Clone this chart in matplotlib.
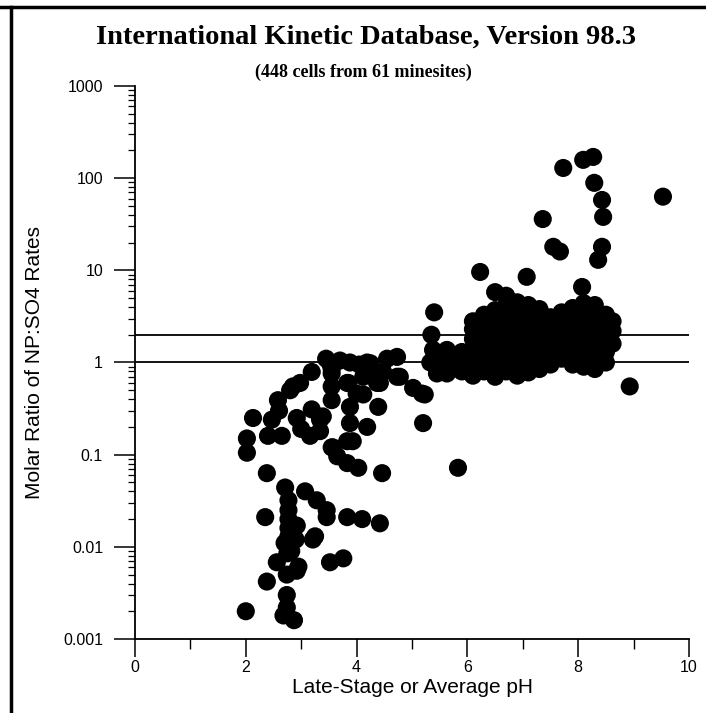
import matplotlib
matplotlib.use("Agg")
import matplotlib.pyplot as plt
from matplotlib.lines import Line2D
from matplotlib.ticker import LogLocator, NullFormatter, FixedLocator, FixedFormatter

# ---------------- data ----------------
# low-pH, very low ratio group
ph_low = [2.00, 2.71, 3.07, 3.28, 3.46, 3.46, 3.83, 4.10, 4.42, 2.35,
          3.21, 3.25, 2.77, 2.77, 2.77, 2.77, 2.77, 2.80, 2.92, 2.90,
          2.56, 2.95, 2.38, 2.74, 2.74, 2.68, 2.87, 3.52, 3.76, 2.74,
          2.92, 2.75, 2.70, 2.82]
r_low = [0.0020, 0.044, 0.040, 0.032, 0.025, 0.021, 0.021, 0.020, 0.018, 0.021,
         0.012, 0.013, 0.032, 0.025, 0.020, 0.016, 0.013, 0.010, 0.017, 0.012,
         0.0068, 0.0061, 0.0042, 0.0030, 0.0022, 0.0018, 0.0016, 0.0068, 0.0075, 0.0050,
         0.0055, 0.0085, 0.011, 0.0090]

# mid group (pH 2-5.9, ratio 0.06-1.2)
ph_mid = [2.02, 2.02, 2.38, 2.13, 2.47, 2.40, 2.65, 2.58, 2.80, 2.98,
          3.19, 2.92, 3.19, 3.16, 3.39, 3.55, 3.83, 4.03, 4.46, 5.83,
          5.20, 3.52, 3.55, 3.88, 4.19, 4.55, 4.73, 3.55, 3.55, 3.55,
          3.83, 4.00, 3.88, 3.88, 3.83, 3.93, 4.19, 4.39, 4.42, 4.73,
          5.02, 5.18, 3.65, 3.34, 3.00, 4.12, 4.48, 2.85, 3.57, 3.85,
          4.12, 3.34, 4.37, 4.37, 4.78, 3.70, 3.45, 4.05, 4.25, 2.60]
r_mid = [0.15, 0.105, 0.063, 0.25, 0.24, 0.16, 0.16, 0.39, 0.50, 0.60,
         0.79, 0.25, 0.31, 0.16, 0.26, 0.12, 0.081, 0.072, 0.063, 0.072,
         0.22, 0.98, 0.85, 1.00, 1.00, 1.10, 1.15, 0.76, 0.55, 0.39,
         0.60, 0.46, 0.33, 0.22, 0.14, 0.14, 0.20, 0.33, 0.60, 0.70,
         0.53, 0.46, 0.096, 0.18, 0.19, 0.70, 0.79, 0.55, 0.12, 0.60,
         0.45, 0.24, 0.70, 0.60, 0.70, 1.05, 1.10, 0.95, 0.98, 0.30]

# transition group (pH 5.2-5.9)
ph_tr = [5.35, 5.40, 5.33, 5.38, 5.45, 5.63, 5.63, 5.23, 5.55, 5.75, 5.80]
r_tr = [2.00, 3.50, 1.00, 1.37, 0.76, 1.37, 0.76, 0.45, 1.05, 1.20, 0.90]

# dense cloud (pH 5.9-8.7, ratio 0.7-6)
ph_cloud = ([5.9] * 3 + [6.1] * 7 + [6.3] * 7 + [6.5] * 9 + [6.7] * 9 +
            [6.9] * 9 + [7.1] * 8 + [7.3] * 7 + [7.5] * 6 + [7.7] * 6 +
            [7.9] * 7 + [8.1] * 8 + [8.3] * 8 + [8.5] * 6 + [8.62] * 3)
r_cloud = ([0.80, 1.00, 1.30] +
           [0.72, 0.90, 1.10, 1.40, 1.80, 2.30, 2.80] +
           [0.80, 1.00, 1.25, 1.60, 2.00, 2.60, 3.30] +
           [0.70, 0.90, 1.10, 1.40, 1.80, 2.30, 2.90, 3.70, 5.80] +
           [0.80, 1.00, 1.25, 1.60, 2.00, 2.60, 3.30, 4.20, 5.30] +
           [0.72, 0.90, 1.10, 1.40, 1.80, 2.30, 2.90, 3.70, 4.50] +
           [0.78, 1.00, 1.25, 1.60, 2.00, 2.60, 3.30, 4.20] +
           [0.85, 1.10, 1.40, 1.80, 2.30, 2.90, 3.80] +
           [0.95, 1.20, 1.60, 2.00, 2.60, 3.10] +
           [1.10, 1.40, 1.80, 2.30, 2.90, 3.50] +
           [0.95, 1.20, 1.50, 1.90, 2.40, 3.00, 3.90] +
           [0.90, 1.10, 1.40, 1.80, 2.30, 2.90, 3.60, 4.40] +
           [0.85, 1.05, 1.30, 1.70, 2.10, 2.70, 3.40, 4.20] +
           [1.00, 1.30, 1.60, 2.00, 2.60, 3.30] +
           [1.60, 2.20, 2.80])

# high-ratio outliers
ph_high = [6.23, 7.07, 8.07, 7.55, 7.67, 8.36, 8.43, 8.93, 7.73, 8.09,
           8.27, 8.29, 8.43, 8.45, 9.53, 7.36]
r_high = [9.6, 8.5, 6.6, 18.0, 16.0, 13.0, 18.0, 0.55, 129.0, 158.0,
          170.0, 89.0, 58.0, 38.0, 63.0, 36.0]

ref_lines = [1.0, 2.0]

x_ticks = [0, 2, 4, 6, 8, 10]
x_minor = [1, 3, 5, 7, 9]
y_ticks = [0.001, 0.01, 0.1, 1, 10, 100, 1000]
y_labels = ["0.001", "0.01", "0.1", "1", "10", "100", "1000"]

title = "International Kinetic Database, Version 98.3"
subtitle = "(448 cells from 61 minesites)"
xlabel = "Late-Stage or Average pH"
ylabel = "Molar Ratio of NP:SO4 Rates"

# ---------------- figure ----------------
fig = plt.figure(figsize=(7.06, 7.13), dpi=100)
ax = fig.add_axes([135 / 706, 1 - 639 / 713, (689 - 135) / 706, (639 - 86) / 713])

sans = "Liberation Sans"
serif = "Liberation Serif"

for yv in ref_lines:
    ax.plot([0, 10], [yv, yv], color="black", lw=1.3, zorder=2, solid_capstyle="butt")

all_x = ph_low + ph_mid + ph_tr + ph_cloud + ph_high
all_y = r_low + r_mid + r_tr + r_cloud + r_high
ax.scatter(all_x, all_y, s=170, c="black", edgecolors="none", zorder=3, clip_on=False)

ax.set_yscale("log")
ax.set_xlim(0, 10)
ax.set_ylim(0.001, 1000)

for s in ["top", "right"]:
    ax.spines[s].set_visible(False)
for s in ["left", "bottom"]:
    ax.spines[s].set_linewidth(1.3)
    ax.spines[s].set_color("black")

ax.xaxis.set_major_locator(FixedLocator(x_ticks))
ax.xaxis.set_minor_locator(FixedLocator(x_minor))
ax.set_xticklabels([str(v) for v in x_ticks], fontfamily=sans, fontsize=11.5)
ax.tick_params(axis="x", which="major", direction="out", length=13, width=1.1, pad=2)
ax.tick_params(axis="x", which="minor", direction="out", length=7, width=1.0)

ax.yaxis.set_major_locator(FixedLocator(y_ticks))
ax.yaxis.set_major_formatter(FixedFormatter(y_labels))
ax.yaxis.set_minor_locator(LogLocator(base=10, subs=range(2, 10), numticks=20))
ax.yaxis.set_minor_formatter(NullFormatter())
for lab in ax.get_yticklabels():
    lab.set_fontfamily(sans)
    lab.set_fontsize(11.5)
ax.tick_params(axis="y", which="major", direction="out", length=15, width=1.1, pad=8)
ax.tick_params(axis="y", which="minor", direction="out", length=5, width=0.9)

ax.set_xlabel(xlabel, fontfamily=sans, fontsize=15, labelpad=2)
ax.set_ylabel(ylabel, fontfamily=sans, fontsize=15, labelpad=14)

fig.text(366 / 706, 1 - 37 / 713, title, ha="center", va="center",
         fontfamily=serif, fontweight="bold", fontsize=20.5)
fig.text(363 / 706, 1 - 72 / 713, subtitle, ha="center", va="center",
         fontfamily=serif, fontweight="bold", fontsize=13)

# outer frame (top and left edges)
fig.add_artist(Line2D([0, 1], [1 - 7 / 713, 1 - 7 / 713], color="black", lw=2.5,
                      transform=fig.transFigure))
fig.add_artist(Line2D([11 / 706, 11 / 706], [0, 1 - 7 / 713], color="black", lw=2.5,
                      transform=fig.transFigure))

fig.savefig("out.png", dpi=100)
